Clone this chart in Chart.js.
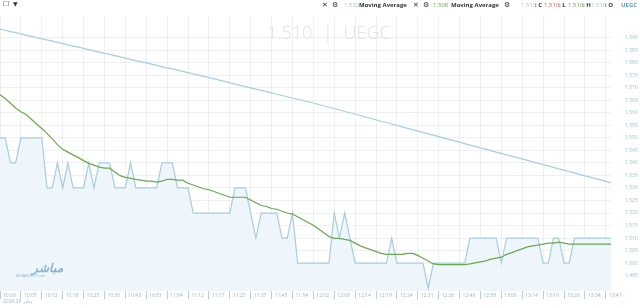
<!DOCTYPE html>
<html>
<head>
<meta charset="utf-8">
<script src="https://cdn.jsdelivr.net/npm/chart.js@4.4.1/dist/chart.umd.min.js"></script>
<style>
body { margin: 0; background: #fff; font-family: 'Open Sans', sans-serif; }
#wrap { position: relative; width: 640px; height: 308px; overflow: hidden; }
#chart { position: absolute; left: 0; top: 0; }
.t { position: absolute; top: 1px; font-size: 6px; line-height: 8px; white-space: nowrap; }
.b { font-weight: bold; color: #333; }
.sym { font-family: 'DejaVu Sans', sans-serif; color: #333; font-size: 7px; }
#mark { position: absolute; top: 20px; left: 267px; font-size: 18px; font-weight: 300; color: #e2e2e2; white-space: nowrap; }
#logo { position: absolute; left: 16px; top: 262px; color: #8fb2d2; }
#logo .ar { font-family: 'Noto Sans', 'DejaVu Sans', sans-serif; font-size: 12px; font-weight: bold; font-style: italic; margin-left: 16px; line-height: 12px; }
#logo .en { font-size: 3.5px; line-height: 4px; }
</style>
</head>
<body>
<div id="wrap">
<canvas id="chart" width="640" height="308"></canvas>

<div class="t sym" style="left:3px;top:0px;">☐</div>
<div class="t sym" style="left:13px;top:0px;font-size:6px;">▼</div>

<div id="mark">1.510 <span style="margin:0 6px;">|</span> UEGC</div>

<div class="t sym" style="left:322px;">✕</div>
<div class="t sym" style="left:332px;">⚙</div>
<div class="t" style="left:344px;color:#9ccbe0;">1.532</div>
<div class="t b" style="left:359px;">Moving Average</div>
<div class="t sym" style="left:413px;">✕</div>
<div class="t sym" style="left:423px;">⚙</div>
<div class="t" style="left:433px;color:#6aa84f;">1.508</div>
<div class="t b" style="left:451px;">Moving Average</div>
<div class="t sym" style="left:504px;">⚙</div>
<div class="t" style="left:521px;color:#9ccbe0;">1.510</div>
<div class="t b" style="left:535px;">: C</div>
<div class="t" style="left:544px;color:#e06666;">1.510</div>
<div class="t b" style="left:559px;">: L</div>
<div class="t" style="left:568px;color:#6aa84f;">1.510</div>
<div class="t b" style="left:583px;">: H</div>
<div class="t" style="left:591px;color:#9ccbe0;">1.510</div>
<div class="t b" style="left:605px;">: O</div>
<div class="t b" style="left:621px;color:#5b9bd5;">UEGC</div>

<div id="logo"><div class="ar">مباشر</div><div class="en">MUBASHER Trade</div></div>
</div>

<script>
// x axis labels, one every 4 points
const timeLabels = ['10:00','10:05','10:12','10:18','10:25','10:30','10:43','10:51','11:04','11:12',
    '11:17','11:25','11:37','11:45','11:54','12:02','12:09','12:14','12:19','12:24',
    '12:31','12:36','12:46','12:58','13:06','13:14','13:19','13:26','13:34','13:41'];
const dateLabel = '2026 26 يناير';

// last price (step line with area)
const priceSteps = [
    1.55,1.55,1.54,1.54,1.55,1.55,1.55,1.55,1.55,1.53,
    1.53,1.54,1.53,1.54,1.53,1.53,1.53,1.54,1.53,1.54,
    1.54,1.54,1.53,1.53,1.53,1.54,1.53,1.53,1.53,1.53,
    1.53,1.54,1.54,1.54,1.53,1.53,1.53,1.52,1.52,1.52,
    1.52,1.52,1.52,1.52,1.52,1.53,1.53,1.53,1.52,1.51,
    1.52,1.52,1.52,1.52,1.51,1.51,1.52,1.50,1.50,1.50,
    1.50,1.50,1.50,1.50,1.52,1.51,1.52,1.51,1.50,1.50,
    1.50,1.50,1.50,1.50,1.50,1.51,1.50,1.50,1.50,1.50,
    1.50,1.50,1.49,1.50,1.50,1.50,1.50,1.50,1.50,1.50,
    1.51,1.51,1.51,1.51,1.51,1.51,1.50,1.51,1.51,1.51,
    1.51,1.51,1.51,1.51,1.50,1.50,1.51,1.51,1.50,1.50,
    1.51,1.51,1.51,1.51,1.51,1.51,1.51,1.51
];

// green moving average (ends 1.508)
const maFast = [
    1.5672,1.5657,1.5638,1.5619,1.5604,1.5593,1.5574,1.5555,1.5537,1.5518,
    1.5496,1.5473,1.5454,1.5443,1.5432,1.5421,1.5409,1.5398,1.5391,1.5383,
    1.5379,1.5379,1.5364,1.5349,1.5342,1.5338,1.5334,1.5331,1.5327,1.5327,
    1.5323,1.5327,1.5334,1.5334,1.5331,1.5331,1.5319,1.5312,1.5304,1.5297,
    1.5293,1.5286,1.5278,1.5271,1.5263,1.5263,1.5263,1.5263,1.5252,1.5241,
    1.5230,1.5226,1.5218,1.5215,1.5207,1.5200,1.5196,1.5185,1.5173,1.5162,
    1.5151,1.5136,1.5121,1.5106,1.5099,1.5099,1.5095,1.5091,1.5080,1.5069,
    1.5061,1.5054,1.5046,1.5039,1.5035,1.5035,1.5035,1.5035,1.5039,1.5039,
    1.5031,1.5020,1.5009,1.4997,1.4994,1.4994,1.4994,1.4994,1.4994,1.4994,
    1.4997,1.5001,1.5005,1.5009,1.5016,1.5020,1.5024,1.5035,1.5042,1.5050,
    1.5057,1.5065,1.5069,1.5072,1.5076,1.5080,1.5080,1.5084,1.5080,1.5076,
    1.5076,1.5076,1.5076,1.5076,1.5076,1.5076,1.5076,1.5076
];

// light blue moving average (ends 1.532)
const maSlow = [
    1.5934,1.5929,1.5924,1.5920,1.5915,1.5910,1.5905,1.5900,1.5895,1.5891,
    1.5886,1.5881,1.5876,1.5871,1.5866,1.5862,1.5857,1.5852,1.5847,1.5842,
    1.5837,1.5833,1.5828,1.5823,1.5818,1.5813,1.5808,1.5804,1.5799,1.5794,
    1.5789,1.5784,1.5779,1.5775,1.5770,1.5765,1.5760,1.5755,1.5750,1.5745,
    1.5740,1.5735,1.5730,1.5725,1.5719,1.5714,1.5709,1.5704,1.5699,1.5694,
    1.5689,1.5684,1.5679,1.5674,1.5669,1.5664,1.5659,1.5654,1.5649,1.5644,
    1.5639,1.5633,1.5628,1.5622,1.5617,1.5611,1.5605,1.5600,1.5594,1.5589,
    1.5583,1.5578,1.5572,1.5566,1.5561,1.5555,1.5550,1.5544,1.5538,1.5533,
    1.5527,1.5522,1.5516,1.5511,1.5505,1.5499,1.5494,1.5488,1.5483,1.5477,
    1.5471,1.5466,1.5460,1.5455,1.5449,1.5443,1.5438,1.5432,1.5427,1.5421,
    1.5416,1.5410,1.5404,1.5399,1.5393,1.5388,1.5382,1.5376,1.5371,1.5365,
    1.5360,1.5354,1.5348,1.5343,1.5337,1.5332,1.5326,1.5321
];

const yTickMin = 1.490;
const yTickMax = 1.590;
const yTickStep = 0.005;
const pointsPerLabel = 4;

function toXY(arr) {
    return arr.map((v, i) => ({ x: i, y: v }));
}

const ctx = document.getElementById('chart').getContext('2d');
const chart = new Chart(ctx, {
    type: 'line',
    data: {
        datasets: [{
            label: 'MA fast',
            data: toXY(maFast),
            borderColor: '#6aa84f',
            borderWidth: 1.2,
            pointRadius: 0,
            fill: false
        }, {
            label: 'MA slow',
            data: toXY(maSlow),
            borderColor: '#a4cfe2',
            borderWidth: 1.2,
            pointRadius: 0,
            fill: false
        }, {
            label: 'UEGC',
            data: toXY(priceSteps),
            borderColor: '#a6cde0',
            backgroundColor: '#eef6fb',
            borderWidth: 1.2,
            pointRadius: 0,
            fill: 'start'
        }]
    },
    options: {
        responsive: false,
        animation: false,
        layout: { padding: 0 },
        plugins: {
            legend: { display: false },
            tooltip: { enabled: false }
        },
        scales: {
            x: {
                type: 'linear',
                min: 0,
                max: priceSteps.length - 1,
                border: { display: false },
                grid: {
                    color: 'rgba(0,0,0,0.06)',
                    tickColor: '#b9cfdc',
                    tickLength: 8
                },
                ticks: {
                    autoSkip: false,
                    maxRotation: 0,
                    align: 'start',
                    labelOffset: 3,
                    padding: -6,
                    color: '#9ab7c9',
                    font: { family: 'Open Sans', size: 5 },
                    callback: function (value) {
                        const t = timeLabels[value / pointsPerLabel];
                        if (value === 0) return [t, dateLabel];
                        return t;
                    }
                },
                afterBuildTicks: function (axis) {
                    // one tick per time label
                    axis.ticks = timeLabels.map((lbl, k) => ({ value: k * pointsPerLabel }));
                },
                afterFit: function (axis) {
                    axis.height = 16;
                }
            },
            y: {
                position: 'right',
                min: 1.4889,
                max: 1.5982,
                border: { display: false },
                grid: {
                    color: 'rgba(0,0,0,0.06)',
                    drawTicks: false
                },
                ticks: {
                    stepSize: yTickStep,
                    padding: 14,
                    color: '#9bc3d6',
                    font: { family: 'Open Sans', size: 5 },
                    callback: function (value) {
                        return value.toFixed(3);
                    }
                },
                afterBuildTicks: function (axis) {
                    axis.ticks = axis.ticks.filter(t => {
                        const k = t.value / yTickStep;
                        return Math.abs(k - Math.round(k)) < 1e-6 && t.value >= yTickMin - 1e-9 && t.value <= yTickMax + 1e-9;
                    });
                },
                afterFit: function (axis) {
                    axis.width = 29;
                }
            }
        }
    }
});
</script>
</body>
</html>
